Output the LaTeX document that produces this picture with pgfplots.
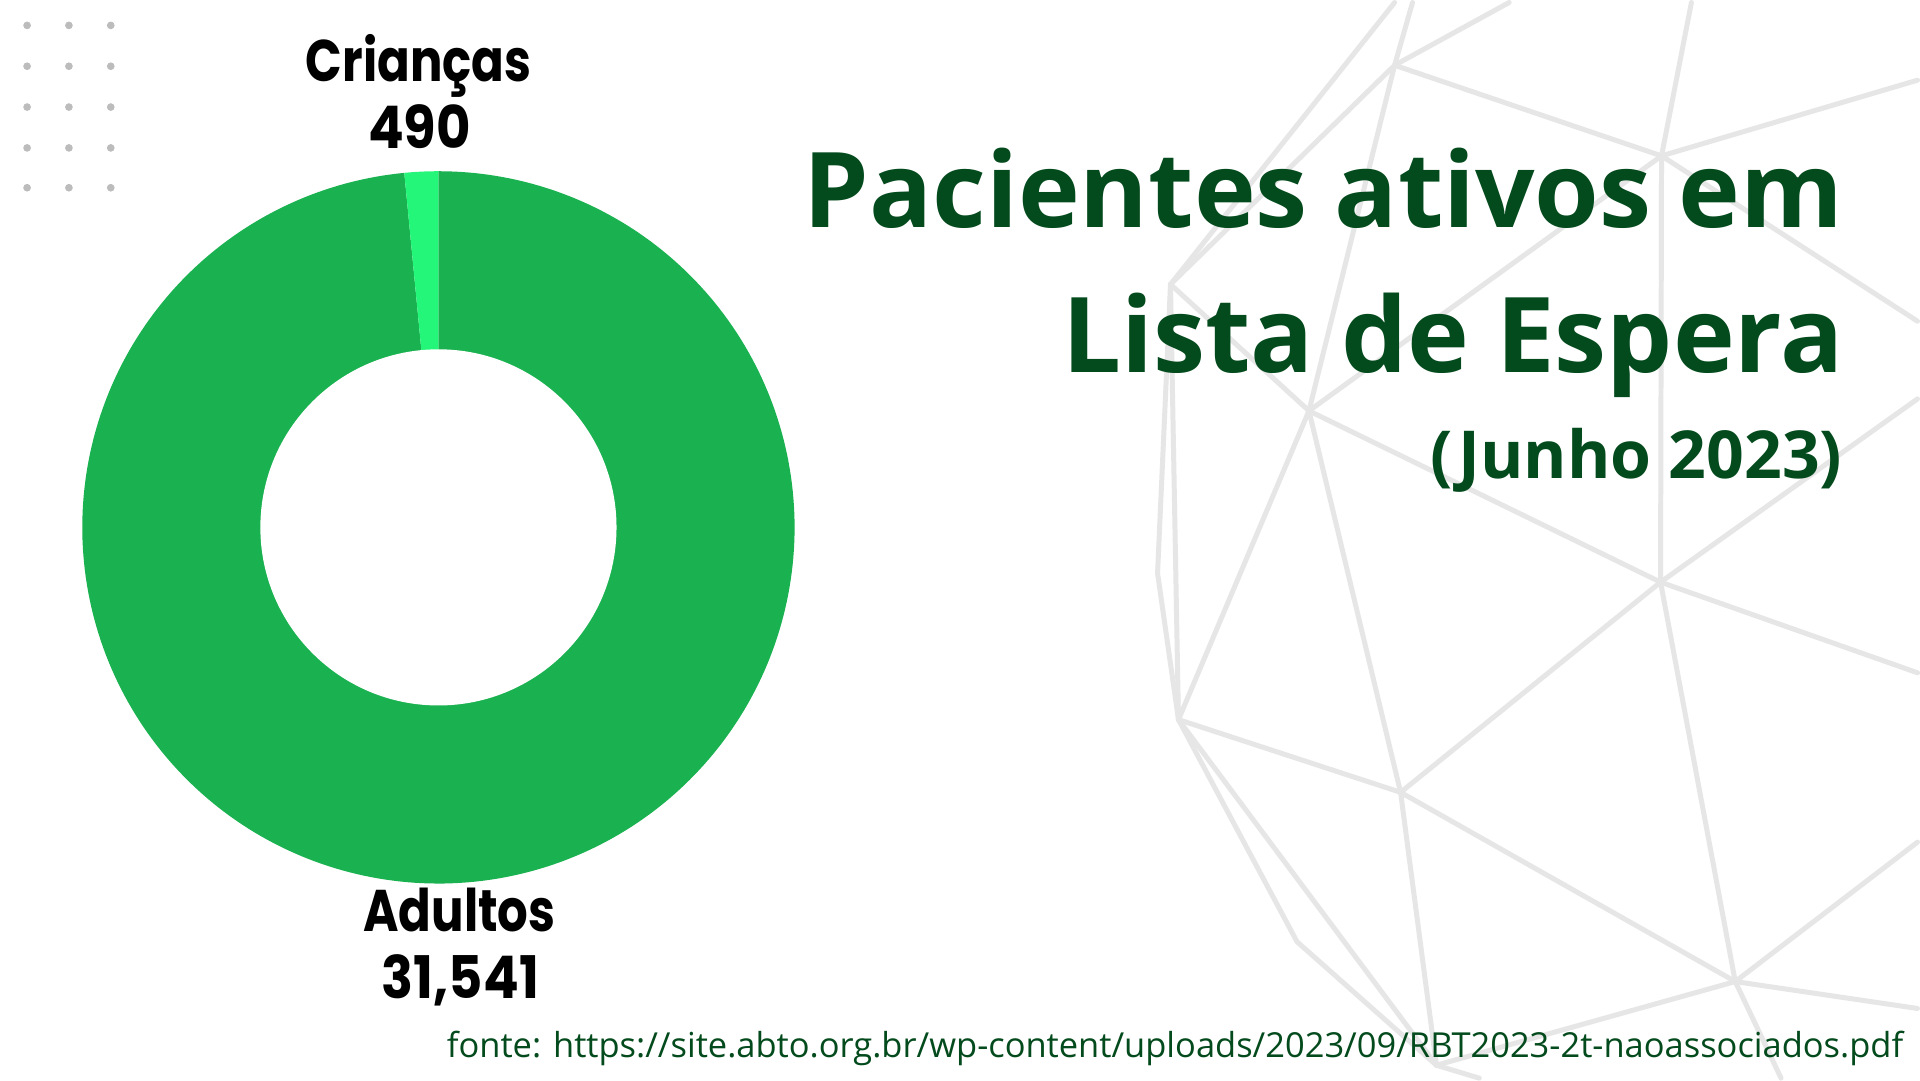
\documentclass[border=0pt]{standalone}
\usepackage{fontspec}
\usepackage{pgfplots}
\usepackage{pgfplotstable}
\pgfplotsset{compat=1.18}
\setmainfont{Open Sans}
\newfontfamily\titlefont{Open Sans}
\newfontfamily\labelfont{Poppins}[FakeStretch=0.82]
\newfontfamily\numfont{Poppins}[FakeStretch=0.9]
\definecolor{adultgreen}{RGB}{26,178,80}
\definecolor{childgreen}{RGB}{36,246,121}
\definecolor{titlegreen}{RGB}{3,74,28}
\definecolor{dotgrey}{RGB}{188,188,188}
\definecolor{linegrey}{RGB}{230,230,230}

\pgfplotstableread{
label value
Adultos 31541
Criancas 490
}\donutdata

\begin{document}
\pgfplotstablegetelem{0}{value}\of\donutdata
\let\vA\pgfplotsretval
\pgfplotstablegetelem{1}{value}\of\donutdata
\let\vC\pgfplotsretval
\edef\angC{\fpeval{round(90+360*\vC/(\vA+\vC),3)}}
\begin{tikzpicture}
\begin{axis}[
  at={(0,0)}, anchor=south west,
  scale only axis, width=960pt, height=540pt,
  xmin=0, xmax=1920, ymin=0, ymax=1080,
  y dir=reverse, hide axis, clip=false,
]
\fill[white] (axis cs:0,0) rectangle (axis cs:1920,1080);
% background network
\begin{scope}[linegrey, line width=2.5pt, line cap=round, line join=round]
\draw (axis cs:1395,0) -- (axis cs:1170,283);
\draw (axis cs:1395,63) -- (axis cs:1413,0);
\draw (axis cs:1395,63) -- (axis cs:1510,0);
\draw (axis cs:1395,63) -- (axis cs:1663,154);
\draw (axis cs:1395,63) -- (axis cs:1170,283);
\draw (axis cs:1395,63) -- (axis cs:1309,410);
\draw (axis cs:1663,154) -- (axis cs:1693,0);
\draw (axis cs:1663,154) -- (axis cs:1920,78);
\draw (axis cs:1663,154) -- (axis cs:1920,320);
\draw (axis cs:1663,154) -- (axis cs:1662,582);
\draw (axis cs:1663,154) -- (axis cs:1309,410);
\draw (axis cs:1170,283) -- (axis cs:1157,573) -- (axis cs:1178,720);
\draw (axis cs:1170,283) -- (axis cs:1178,720);
\draw (axis cs:1170,283) -- (axis cs:1309,410);
\draw (axis cs:1309,410) -- (axis cs:1178,720);
\draw (axis cs:1309,410) -- (axis cs:1401,793);
\draw (axis cs:1309,410) -- (axis cs:1662,582);
\draw (axis cs:1178,720) -- (axis cs:1401,793);
\draw (axis cs:1401,793) -- (axis cs:1662,582);
\draw (axis cs:1662,582) -- (axis cs:1920,398);
\draw (axis cs:1662,582) -- (axis cs:1920,673);
\draw (axis cs:1662,582) -- (axis cs:1737,983);
\draw (axis cs:1401,793) -- (axis cs:1737,983);
\draw (axis cs:1401,793) -- (axis cs:1437,1067);
\draw (axis cs:1178,720) -- (axis cs:1297,943) -- (axis cs:1437,1067);
\draw (axis cs:1178,720) -- (axis cs:1437,1067);
\draw (axis cs:1437,1067) -- (axis cs:1737,983);
\draw (axis cs:1737,983) -- (axis cs:1920,843);
\draw (axis cs:1737,983) -- (axis cs:1920,1010);
\draw (axis cs:1737,983) -- (axis cs:1783,1080);
\draw (axis cs:1437,1067) -- (axis cs:1480,1080);
\end{scope}
% dots
\addplot[only marks, mark=*, mark size=1.7pt, color=dotgrey] coordinates {
(22,23) (64,23) (106,23)
(22,64) (64,64) (106,64)
(22,105) (64,105) (106,105)
(22,146) (64,146) (106,146)
(22,186) (64,186) (106,186)
};
% donut
\addplot[fill=adultgreen, draw=none, domain=\angC:450, samples=300]
  ({435+357.6*cos(x)}, {527-357.6*sin(x)}) -- (axis cs:435,527) -- cycle;
\addplot[fill=childgreen, draw=none, domain=90:\angC, samples=20]
  ({435+357.6*cos(x)}, {527-357.6*sin(x)}) -- (axis cs:435,527) -- cycle;
\fill[white] (axis cs:435,527) circle[radius=178.8];
% labels
\node[anchor=base, font=\labelfont\bfseries\fontsize{29.5}{29.5}\selectfont] at (axis cs:415,79) {Crianças};
\node[anchor=base, font=\numfont\bfseries\fontsize{29.5}{29.5}\selectfont] at (axis cs:416,147) {490};
\node[anchor=base, font=\labelfont\bfseries\fontsize{29.5}{29.5}\selectfont] at (axis cs:456,933) {Adultos};
\node[anchor=base, font=\numfont\bfseries\fontsize{29.5}{29.5}\selectfont] at (axis cs:457,1000) {31,541};
% title
\node[anchor=base east, inner sep=0pt, text=titlegreen, font=\titlefont\bfseries\fontsize{52.5}{52.5}\selectfont] at (axis cs:1846,226) {Pacientes ativos em};
\node[anchor=base east, inner sep=0pt, text=titlegreen, font=\titlefont\bfseries\fontsize{52.5}{52.5}\selectfont] at (axis cs:1846,371) {Lista de Espera};
\node[anchor=base east, inner sep=0pt, text=titlegreen, font=\titlefont\bfseries\fontsize{33.2}{33.2}\selectfont] at (axis cs:1845,478) {(Junho 2023)};
\node[anchor=base east, inner sep=0pt, text=titlegreen, font=\titlefont\fontsize{17.3}{17.3}\selectfont] at (axis cs:1906,1059) {fonte: https://site.abto.org.br/wp-content/uploads/2023/09/RBT2023-2t-naoassociados.pdf};
\end{axis}
\end{tikzpicture}
\end{document}
